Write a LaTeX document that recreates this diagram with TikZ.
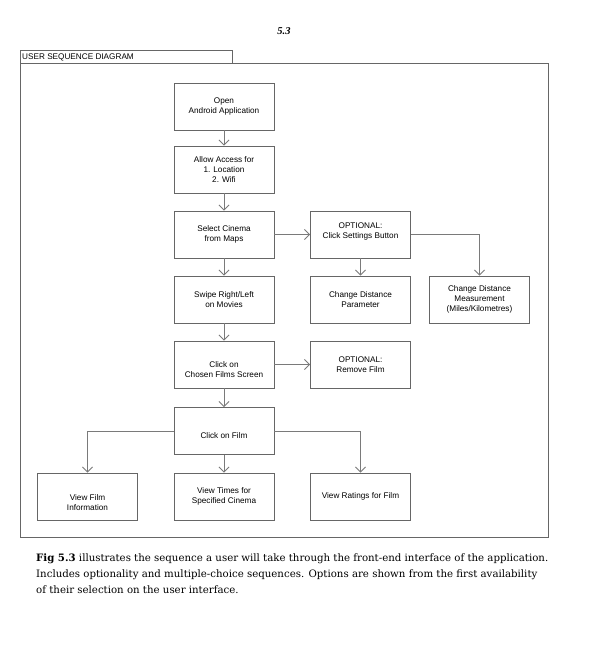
\documentclass[tikz,border=0pt]{standalone}
\usepackage{fontspec}
\setmainfont{Liberation Serif}
\setsansfont{Liberation Sans}
\newfontfamily\capfont{DejaVu Serif}
\usetikzlibrary{arrows.meta}
\definecolor{edge}{HTML}{666666}
\definecolor{flow}{HTML}{7A7A7A}
\tikzset{
  stepbox/.style={draw=edge, line width=0.9pt, minimum width=100pt, minimum height=47pt,
    inner sep=0pt, align=center, font=\sffamily\fontsize{8.2}{10}\selectfont},
  flowline/.style={draw=flow, line width=0.8pt, -{Straight Barb[length=5pt,width=10pt,line width=0.8pt]}},
  inner text/.style={align=center, font=\sffamily\fontsize{8.2}{10}\selectfont},
  caption/.style={anchor=west, inner sep=0pt, font=\capfont\fontsize{10.2}{12}\selectfont},
}
\begin{document}
\begin{tikzpicture}[x=1pt, y=-1pt]
  \useasboundingbox (0,0) rectangle (609,649);
  \fill[white] (0,0) rectangle (609,649);

  % page number
  \node[font=\bfseries\itshape\fontsize{10.5}{12}\selectfont] (pageno) at (284,31) {5.3};

  % diagram frame with title tab
  \draw[draw=edge, line width=0.9pt] (20,63) rectangle (548,537);
  \draw[draw=edge, line width=0.9pt] (20,63) -- (20,50) -- (232,50) -- (232,63);
  \node[anchor=west, font=\sffamily\fontsize{8.2}{9}\selectfont, inner sep=0pt] (title) at (22,57) {USER SEQUENCE DIAGRAM};

  % steps
  \node[stepbox] (open) at (224,106.5) {Open\\Android Application};
  \node[stepbox] (allow) at (224,169.5) {Allow Access for\\1. Location\\2. Wifi};
  \node[stepbox] (select) at (224,234.5) {Select Cinema\\from Maps};
  \node[stepbox, label={[inner text, yshift=3pt]center:OPTIONAL:\\Click Settings Button}] (settings) at (360.5,234.5) {};
  \node[stepbox] (swipe) at (224,299.5) {Swipe Right/Left\\on Movies};
  \node[stepbox] (param) at (360.5,299.5) {Change Distance\\Parameter};
  \node[stepbox] (measure) at (479.5,299.5) {Change Distance\\Measurement\\(Miles/Kilometres)};
  \node[stepbox, label={[inner text, yshift=-5pt]center:Click on\\Chosen Films Screen}] (chosen) at (224,364.5) {};
  \node[stepbox] (remove) at (360.5,364.5) {OPTIONAL:\\Remove Film};
  \node[stepbox, label={[inner text, yshift=-5pt]center:Click on Film}] (film) at (224,431) {};
  \node[stepbox, label={[inner text, yshift=-6pt]center:View Film\\Information}] (info) at (87.5,496.5) {};
  \node[stepbox] (times) at (224,496.5) {View Times for\\Specified Cinema};
  \node[stepbox] (ratings) at (360.5,496.5) {View Ratings for Film};

  % flow
  \draw[flowline] (open) -- (allow);
  \draw[flowline] (allow) -- (select);
  \draw[flowline] (select) -- (settings);
  \draw[flowline] (settings) -- (param);
  \draw[flowline] (settings.east) -| (measure.north);
  \draw[flowline] (select) -- (swipe);
  \draw[flowline] (swipe) -- (chosen);
  \draw[flowline] (chosen) -- (remove);
  \draw[flowline] (chosen) -- (film);
  \draw[flowline] (film.west) -| (info.north);
  \draw[flowline] (film) -- (times);
  \draw[flowline] (film.east) -| (ratings.north);

  % caption
  \node[caption] (cap1) at (36,559)
    {\textbf{Fig 5.3} illustrates the sequence a user will take through the front-end interface of the application.};
  \node[caption] (cap2) at (36,575)
    {Includes optionality and multiple-choice sequences. Options are shown from the first availability};
  \node[caption] (cap3) at (36,590)
    {of their selection on the user interface.};
\end{tikzpicture}
\end{document}
